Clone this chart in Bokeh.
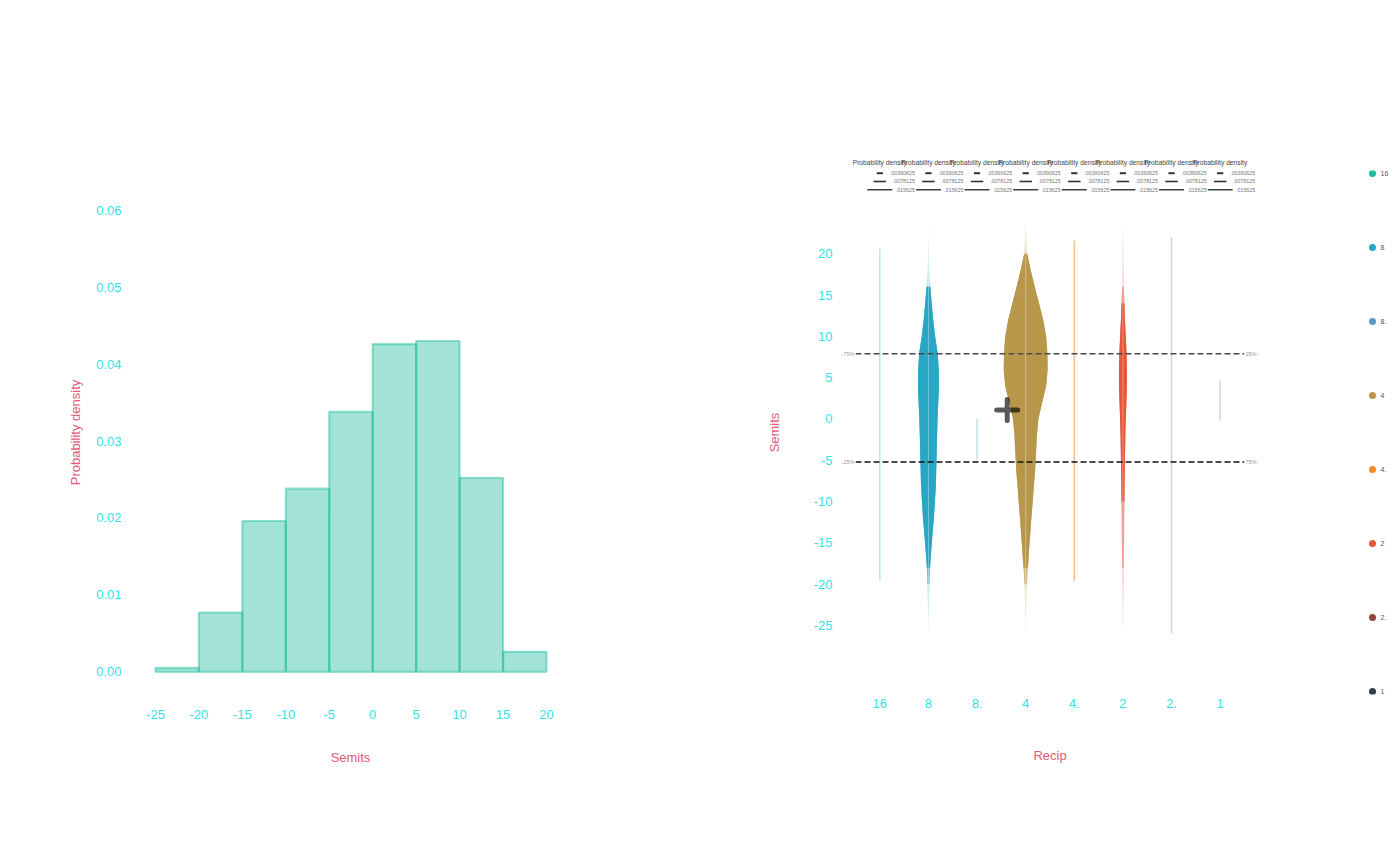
from bokeh.plotting import figure
from bokeh.layouts import row
from bokeh.models import Range1d, FixedTicker, PrintfTickFormatter, Span
from bokeh.core.properties import value
from bokeh.embed import file_html
from bokeh.resources import INLINE

# ---------------- data ----------------
# left: histogram of semitone offsets
bin_edges = [-25, -20, -15, -10, -5, 0, 5, 10, 15, 20]
bin_density = [0.0005, 0.0077, 0.0196, 0.0238, 0.0338, 0.0426, 0.0430, 0.0252, 0.0026]
hist_xticks = [-25, -20, -15, -10, -5, 0, 5, 10, 15, 20]
hist_yticks = [0.0, 0.01, 0.02, 0.03, 0.04, 0.05, 0.06]

# right: violins of semits per recip group
recip = ["16", "8", "8.", "4", "4.", "2", "2.", "1"]
recip_colors = ["#1abc9c", "#27a7c4", "#5499c7", "#b9974a",
                "#ef8a24", "#e8563a", "#95463f", "#2c3e50"]
semit_ticks = [20, 15, 10, 5, 0, -5, -10, -15, -20, -25]

violin_levels = [24, 22, 20, 18, 16, 14, 12, 10, 8, 6, 4, 2, 0,
                 -2, -4, -6, -8, -10, -12, -14, -16, -18, -20, -22, -24, -26]
violin_8 = [0, .0001, .0004, .0009, .0023, .0041, .0059, .0084, .0115, .0129, .0131, .0123, .0114,
            .0108, .0103, .0098, .0093, .0081, .0068, .0050, .0034, .0020, .0013, .0008, .0004, 0]
violin_4 = [0, .0008, .0019, .0063, .0113, .0166, .0219, .0256, .0271, .0275, .0256, .0206, .0159,
            .0140, .0130, .0120, .0103, .0088, .0071, .0056, .0041, .0028, .0015, .0008, .0004, 0]
violin_2 = [0, .0003, .0005, .0008, .0011, .0018, .0025, .0035, .0045, .0050, .0049, .0043, .0035,
            .0030, .0026, .0024, .0020, .0018, .0015, .0014, .0013, .0010, .0009, .0006, .0004, 0]
violins = {"8": violin_8, "4": violin_4, "2": violin_2}

# groups with almost no density: only their extent shows
thin_groups = ["16", "8.", "4.", "2.", "1"]
thin_lo = [-19.6, -5.0, -19.6, -26.0, -0.2]
thin_hi = [20.6, 0.0, 21.6, 22.0, 4.7]
thin_alpha = [0.3, 0.3, 0.55, 0.25, 0.2]

q25, q75 = -5.2, 7.9
mean_x, mean_y = 2.62, 1.1
size_legend_values = [0.00390625, 0.0078125, 0.015625]

# ---------------- style ----------------
FONT = "Liberation Sans"
TICK_COLOR = "#33e2e8"
TITLE_COLOR = "#e2587a"
W_SCALE = 32.87      # category widths per unit of density
PX_X = 48.67         # px per category on the right plot
PX_Y = 8.26          # px per semit on the right plot
H = 860
TOP, BOTTOM = 170, 166   # frame borders shared by the whole row


def style_axis(ax, standoff, label_standoff):
    ax.axis_line_color = None
    ax.major_tick_line_color = None
    ax.minor_tick_line_color = None
    ax.major_tick_out = 0
    ax.major_tick_in = 0
    ax.major_label_standoff = standoff
    ax.axis_label_standoff = label_standoff
    ax.major_label_text_color = TICK_COLOR
    ax.major_label_text_font = FONT
    ax.major_label_text_font_size = "13px"
    ax.axis_label_text_color = TITLE_COLOR
    ax.axis_label_text_font = FONT
    ax.axis_label_text_font_size = "13px"
    ax.axis_label_text_font_style = "normal"


# ---------------- left: histogram ----------------
h = figure(width=700, height=H, output_backend="svg", toolbar_location=None,
           x_range=Range1d(-27.30, 22.19), y_range=Range1d(-0.00295, 0.06516),
           x_axis_label="Semits", y_axis_label="Probability density",
           min_border_left=135, min_border_right=135,
           min_border_top=TOP, min_border_bottom=BOTTOM)
h.outline_line_color = None
h.xgrid.visible = False
h.ygrid.visible = False

h.quad(left=bin_edges[:-1], right=bin_edges[1:], bottom=0, top=bin_density,
       fill_color="#1abc9c", fill_alpha=0.4,
       line_color="#1abc9c", line_alpha=0.45, line_width=2.2)

h.xaxis.ticker = FixedTicker(ticks=hist_xticks)
h.xaxis.major_label_overrides = {t: str(t) for t in hist_xticks}
h.yaxis.ticker = FixedTicker(ticks=hist_yticks)
h.yaxis.formatter = PrintfTickFormatter(format="%.2f")
style_axis(h.xaxis[0], 15, 28)
style_axis(h.yaxis[0], 14, 10)

# ---------------- right: violins ----------------
semit_range = Range1d(-33.35, 30.08)
v = figure(width=662, height=H, output_backend="svg", toolbar_location=None,
           x_range=Range1d(-0.5, 7.5), y_range=semit_range,
           x_axis_label="Recip", y_axis_label="Semits",
           min_border_left=155, min_border_right=118,
           min_border_top=TOP, min_border_bottom=BOTTOM)
v.outline_line_color = None
v.xgrid.visible = False
v.ygrid.visible = False


def violin_outline(i, levels, dens):
    half = [d * W_SCALE / 2 for d in dens]
    xs = [i + w for w in half] + [i - w for w in half[::-1]]
    ys = list(levels) + list(levels[::-1])
    return xs, ys


for i, cat in enumerate(recip):
    if cat not in violins:
        continue
    dens = violins[cat]
    # faint tails, then a solid body where the violin is wide enough
    for thr, alpha in [(0.0, 0.3), (0.001, 0.55), (0.0018, 1.0)]:
        keep = [n for n, d in enumerate(dens) if d >= thr]
        a, b = keep[0], keep[-1] + 1
        xs, ys = violin_outline(i, violin_levels[a:b], dens[a:b])
        v.patch(xs, ys, fill_color=recip_colors[i], fill_alpha=alpha, line_color=None)
    nz = [y for y, d in zip(violin_levels, dens) if d > 0]
    v.segment(x0=[i], y0=[min(nz) - 1], x1=[i], y1=[max(nz) + 1],
              line_color="white", line_alpha=0.35, line_width=1)

for cat, lo, hi, a in zip(thin_groups, thin_lo, thin_hi, thin_alpha):
    i = recip.index(cat)
    v.segment(x0=[i], y0=[lo], x1=[i], y1=[hi], line_color=recip_colors[i],
              line_alpha=a, line_width=1.6)

# quartile lines with their small end labels
q_y, q_ltxt, q_rtxt = [], [], []
for q, col, left_txt, right_txt in [(q75, "#4a4a4a", "\u219375%", "25%\u2191"),
                                    (q25, "#111111", "\u219325%", "75%\u2191")]:
    v.add_layout(Span(location=q, dimension="width", line_color=col,
                      line_dash="6 3", line_width=1.5))
    q_y.append(q)
    q_ltxt.append(left_txt)
    q_rtxt.append(right_txt)

ql = v.text(x=[-0.5 - 1 / PX_X] * 2, y=q_y, text=q_ltxt, text_align="right",
            text_baseline="middle", text_font=value(FONT),
            text_font_size=value("5.5px"), text_color="#999999")
qr = v.text(x=[7.5 + 1 / PX_X] * 2, y=q_y, text=q_rtxt, text_align="left",
            text_baseline="middle", text_font=value(FONT),
            text_font_size=value("5.5px"), text_color="#999999")

v.scatter(x=[mean_x], y=[mean_y], marker="cross", size=21, line_color="black",
          line_alpha=0.65, line_width=5, line_cap="round")

v.xaxis.ticker = FixedTicker(ticks=list(range(len(recip))))
v.xaxis.major_label_overrides = {i: c for i, c in enumerate(recip)}
v.yaxis.ticker = FixedTicker(ticks=semit_ticks)
v.yaxis.major_label_overrides = {t: str(t) for t in semit_ticks}
style_axis(v.xaxis[0], 4, 37)
style_axis(v.yaxis[0], 23, 29)

# size legends above the violins (one per group)
t_x, t_y, t_txt = [], [], []
s_x0, s_x1, s_y, s_w = [], [], [], []
l_x, l_y, l_txt = [], [], []
for i in range(len(recip)):
    t_x.append(i)
    t_y.append(31.0)
    t_txt.append("Probability density")
    for n, val in enumerate(size_legend_values):
        yy = 29.75 - n * 1.0
        hw = val * W_SCALE / 2
        s_x0.append(i - hw)
        s_x1.append(i + hw)
        s_y.append(yy)
        s_w.append([2.0, 1.6, 1.4][n])
        l_x.append(i + 0.72)
        l_y.append(yy)
        l_txt.append(("%g" % val).lstrip("0"))

r1 = v.text(x=t_x, y=t_y, text=t_txt, text_align="center", text_baseline="middle",
            text_font=value(FONT), text_font_size=value("6.7px"), text_color="#444444")
r2 = v.segment(x0=s_x0, y0=s_y, x1=s_x1, y1=s_y, line_color="#333333", line_width=s_w)
r3 = v.text(x=l_x, y=l_y, text=l_txt, text_align="right", text_baseline="middle",
            text_font=value(FONT), text_font_size=value("5.3px"), text_color="#777777")
for r in (r1, r2, r3, ql, qr):
    r.level = "overlay"

# ---------------- colour key (narrow strip on the same semit scale) ----------------
KEY_W = 36
k = figure(width=KEY_W, height=H, output_backend="svg", toolbar_location=None,
           x_axis_type=None, y_axis_type=None,
           x_range=Range1d(0, KEY_W), y_range=semit_range,
           min_border_left=0, min_border_right=0,
           min_border_top=TOP, min_border_bottom=BOTTOM)
k.outline_line_color = None
key_y = [20 - (173 - 253.3) / PX_Y - n * 74 / PX_Y for n in range(len(recip))]
k.scatter(x=[10] * len(recip), y=key_y, marker="circle", size=7,
          fill_color=recip_colors, line_color=None)
kt = k.text(x=[18] * len(recip), y=key_y, text=recip, text_align="left",
            text_baseline="middle", text_font=value(FONT),
            text_font_size=value("7px"), text_color="#555555")
kt.level = "overlay"

p = row(h, v, k)
open("out.html", "w").write(file_html(p, INLINE))
